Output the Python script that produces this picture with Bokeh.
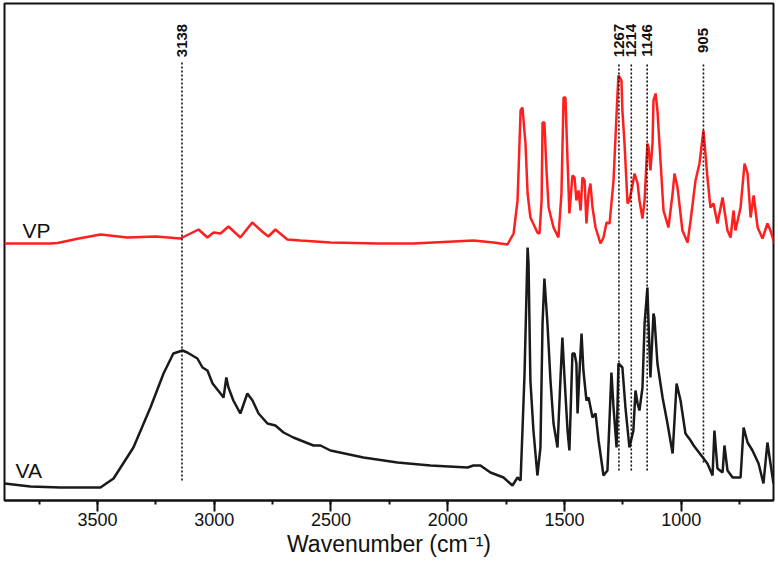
import math
from bokeh.plotting import figure
from bokeh.models import Range1d, SingleIntervalTicker
from bokeh.core.properties import value
from bokeh.embed import file_html
from bokeh.resources import INLINE

# ---- data ----
vp_wn = [3898, 3701, 3671, 3580, 3487, 3372, 3250, 3145, 3067, 3029, 3003, 2973, 2939, 2888, 2837,
         2790, 2768, 2738, 2687, 2631, 2502, 2300, 2147, 1890, 1804, 1744, 1718, 1701, 1688, 1680,
         1667, 1658, 1646, 1616, 1607, 1598, 1594, 1586, 1577, 1568, 1547, 1526, 1513, 1504, 1496,
         1487, 1479, 1466, 1457, 1449, 1440, 1431, 1423, 1414, 1406, 1397, 1389, 1380, 1367, 1346,
         1333, 1320, 1307, 1290, 1273, 1269, 1256, 1252, 1243, 1230, 1222, 1209, 1200, 1187, 1179,
         1166, 1157, 1145, 1140, 1132, 1123, 1119, 1110, 1102, 1089, 1076, 1055, 1037, 1029, 1016,
         995, 973, 960, 939, 922, 905, 900, 888, 875, 862, 845, 823, 815, 802, 789,
         776, 768, 746, 729, 716, 703, 690, 673, 652, 631, 618, 601]
vp_abs = [51.4, 51.4, 51.5, 52.4, 53.2, 52.6, 52.8, 52.4, 54.2, 52.6, 53.6, 53.4, 54.8, 52.6, 55.6,
          53.6, 52.8, 54.2, 52.2, 52.0, 51.6, 51.4, 51.4, 52.0, 51.6, 51.2, 53.4, 60, 78, 78.6,
          71.4, 61.4, 56.6, 53.6, 53.4, 60, 75.6, 75.6, 66, 58.6, 54.6, 52.6, 61.4, 80.6, 80.6,
          68, 57.4, 65, 64.6, 60, 62, 58, 64.6, 64, 55.4, 61.4, 63.4, 58.6, 54.6, 51.4,
          52.6, 55.6, 55.4, 64, 81.4, 85, 84, 78, 71.4, 59.4, 60, 63, 65.4, 63.4, 60,
          56.4, 60, 71.4, 70.6, 66, 71.4, 80, 81.4, 78, 68, 58, 54.6, 61.4, 65.4, 62.6,
          54, 51.6, 56, 64, 67.4, 74, 71.4, 64.6, 58.6, 59.4, 55.4, 60.6, 58, 54, 52.6,
          58, 54, 58.6, 67.4, 65.4, 56.6, 61, 54.6, 52.4, 55.4, 54, 51.4]

va_wn = [3898, 3787, 3658, 3487, 3431, 3346, 3273, 3217, 3175, 3136, 3115, 3072, 3050, 3029, 3007,
         2973, 2960, 2948, 2939, 2918, 2888, 2858, 2836, 2810, 2772, 2738, 2703, 2661, 2575, 2545,
         2502, 2361, 2215, 2074, 1915, 1890, 1860, 1817, 1761, 1723, 1701, 1688, 1680, 1671, 1658,
         1654, 1646, 1633, 1616, 1603, 1594, 1586, 1573, 1560, 1547, 1530, 1517, 1509, 1500, 1487,
         1479, 1466, 1457, 1449, 1444, 1436, 1427, 1419, 1406, 1397, 1380, 1367, 1354, 1333, 1316,
         1299, 1290, 1277, 1269, 1252, 1239, 1222, 1205, 1196, 1187, 1179, 1166, 1157, 1145, 1140,
         1132, 1119, 1115, 1102, 1080, 1059, 1037, 1020, 1003, 982, 960, 947, 888, 866, 858,
         845, 823, 815, 802, 780, 746, 733, 716, 695, 669, 648, 631, 618, 605]
va_abs = [3.4, 2.8, 2.6, 2.6, 4.4, 10.6, 18.6, 25.4, 29.4, 30, 29.6, 28.4, 26.6, 26, 23.4,
          21.4, 20.6, 24.6, 22.6, 20, 17.4, 21.4, 20, 17.4, 15.4, 15, 13.6, 12.6, 11, 11,
          10, 8.6, 7.6, 7, 6.6, 7, 7, 5.6, 4.6, 3, 4.6, 4, 14, 25.4, 50.6,
          47.4, 24, 14, 5, 10.6, 35.4, 44.4, 35.4, 24, 15.4, 10.6, 24.6, 32.6, 24.6, 14,
          10, 29.4, 29.4, 27.4, 17.4, 25.4, 33.4, 26, 20, 20.6, 16.6, 17.4, 12, 5, 6,
          25.6, 18.6, 10.6, 27.4, 26.6, 18.6, 10.6, 14, 22, 19.4, 18, 22.6, 35.4, 42.6, 35.4,
          24.6, 37.4, 36.6, 27.4, 20.6, 15.4, 9.4, 23.4, 20, 13.4, 12, 11, 7.4, 5, 14,
          6.4, 5.6, 11, 6, 4.6, 4.6, 14.6, 11.6, 10, 7.4, 3.4, 11.6, 7.4, 3.4]

peak_wn = [3138, 1267, 1214, 1146, 905]
peak_text = ["3138", "1267", "1214", "1146", "905"]
series_names = ["VP", "VA"]
x_title = "Wavenumber (cm\u207b\u00b9)"

# ---- layout / style ----
FONT = "Liberation Sans"
INK = "#111111"
line_top = [87.6] * 5
line_bottom = [4.0, 6.0, 6.0, 6.0, 7.6]

p = figure(width=776, height=562, output_backend="svg", toolbar_location=None,
           x_range=Range1d(3898, 605), y_range=Range1d(0, 99.4),
           y_axis_location=None, min_border_left=4, min_border_right=3,
           min_border_top=3, min_border_bottom=62)
p.xgrid.visible = False
p.ygrid.visible = False
p.outline_line_color = INK
p.outline_line_width = 2
p.background_fill_color = "white"
p.border_fill_color = "white"

ax = p.xaxis[0]
ax.ticker = SingleIntervalTicker(interval=500, num_minor_ticks=2)
ax.major_tick_in = 0
ax.major_tick_out = 11
ax.minor_tick_in = 0
ax.minor_tick_out = 4
ax.axis_line_width = 2
ax.major_tick_line_width = 2
ax.minor_tick_line_width = 2
ax.axis_line_color = INK
ax.major_tick_line_color = INK
ax.minor_tick_line_color = INK
ax.major_label_text_font = FONT
ax.major_label_text_font_size = "18px"
ax.major_label_text_color = INK
ax.major_label_standoff = 1
ax.axis_label = x_title
ax.axis_label_text_font = FONT
ax.axis_label_text_font_size = "23px"
ax.axis_label_text_font_style = "normal"
ax.axis_label_text_color = INK
ax.axis_label_standoff = 2

p.line(vp_wn, vp_abs, line_color="#ff1f1f", line_width=2.5)
p.line(va_wn, va_abs, line_color="#1a1a1a", line_width=2.5)

p.segment(x0=peak_wn, y0=line_bottom, x1=peak_wn, y1=line_top,
          line_color=INK, line_width=1.6, line_dash="2 2")
p.text(x=peak_wn, y=[92] * 5, text=peak_text, angle=math.pi / 2,
       text_align="center", text_baseline="middle",
       text_font=value(FONT), text_font_size="15px", text_font_style="bold",
       text_color=INK)

p.text(x=[3821, 3851], y=[54, 6], text=series_names,
       text_align="left", text_baseline="alphabetic",
       text_font=value(FONT), text_font_size="21px", text_color=INK)

open("out.html", "w").write(file_html(p, INLINE))
